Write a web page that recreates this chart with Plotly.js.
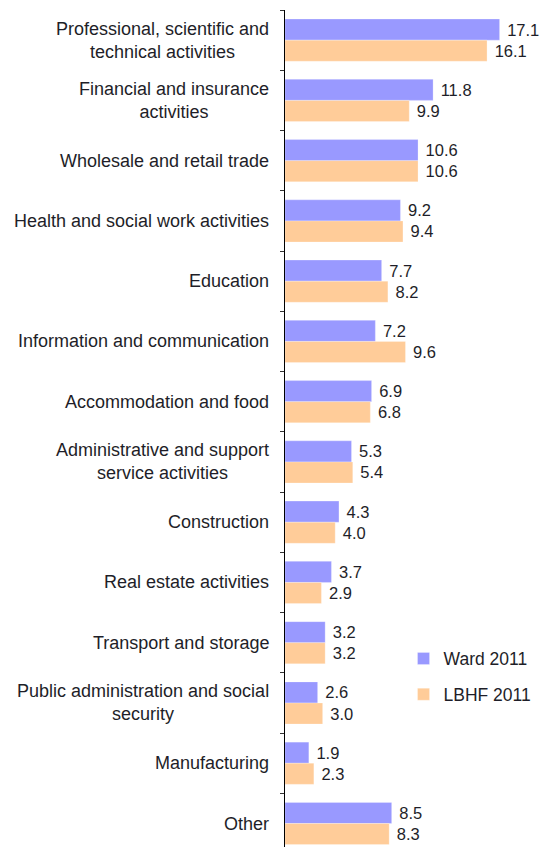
<!DOCTYPE html>
<html>
<head>
<meta charset="utf-8">
<script src="https://cdn.plot.ly/plotly-3.0.1.min.js"></script>
<style>html,body{margin:0;padding:0;background:#fff;}#chart{width:541px;height:847px;}</style>
</head>
<body>
<div id="chart"></div>
<script>
const categories = [
  "Professional, scientific and<br>technical activities",
  "Financial and insurance<br>activities",
  "Wholesale and retail trade",
  "Health and social work activities",
  "Education",
  "Information and communication",
  "Accommodation and food",
  "Administrative and support<br>service activities",
  "Construction",
  "Real estate activities",
  "Transport and storage",
  "Public administration and social<br>security",
  "Manufacturing",
  "Other"
];
const ward2011 = [17.1, 11.8, 10.6, 9.2, 7.7, 7.2, 6.9, 5.3, 4.3, 3.7, 3.2, 2.6, 1.9, 8.5];
const lbhf2011 = [16.1, 9.9, 10.6, 9.4, 8.2, 9.6, 6.8, 5.4, 4.0, 2.9, 3.2, 3.0, 2.3, 8.3];
const seriesNames = ["Ward 2011", "LBHF 2011"];

const fontFamily = "'Liberation Sans', Arial, sans-serif";
const textColor = "#1e1e28";

function barTrace(name, vals, color, group) {
  return {
    type: "bar",
    orientation: "h",
    name: name,
    legendgroup: group,
    x: vals,
    y: categories,
    marker: {color: color, line: {color: "rgba(255,255,255,0.5)", width: 0.5}},
    text: vals.map(v => v.toFixed(1)),
    texttemplate: "\u00a0%{text}",
    textposition: "outside",
    cliponaxis: false,
    constraintext: "none",
    outsidetextfont: {family: fontFamily, size: 16.5, color: textColor},
    hoverinfo: "skip"
  };
}

const data = [
  barTrace(seriesNames[0], ward2011, "#9999ff", "a"),
  barTrace(seriesNames[1], lbhf2011, "#ffcc99", "b")
];

const annotations = categories.map(c => ({
  xref: "paper", yref: "y", x: 0, y: c,
  xanchor: "right", yanchor: "middle", align: "center",
  xshift: -14,
  text: c, showarrow: false,
  font: {family: fontFamily, size: 18, color: textColor}
}));

const layout = {
  width: 541, height: 847,
  margin: {l: 284.5, r: 0, t: 10, b: 0, pad: 0},
  paper_bgcolor: "#fff", plot_bgcolor: "#fff",
  barmode: "group", bargap: 0.3, bargroupgap: 0,
  showlegend: true,
  legend: {
    x: 0.463, xanchor: "left", y: 0.2466, yanchor: "top",
    traceorder: "grouped", tracegroupgap: 10,
    font: {family: fontFamily, size: 17.5, color: textColor},
    bgcolor: "rgba(0,0,0,0)"
  },
  xaxis: {
    range: [0, 20.4], visible: false, showgrid: false, zeroline: false, fixedrange: true
  },
  yaxis: {
    type: "category", range: [13.39, -0.5],
    showline: true, linecolor: "#000", linewidth: 1.2,
    ticks: "outside", ticklen: 4, tickwidth: 1, tickcolor: "#333",
    tickson: "boundaries",
    showticklabels: false, showgrid: false, zeroline: false, fixedrange: true
  },
  annotations: annotations
};

Plotly.newPlot("chart", data, layout, {displayModeBar: false, staticPlot: true});
</script>
</body>
</html>
